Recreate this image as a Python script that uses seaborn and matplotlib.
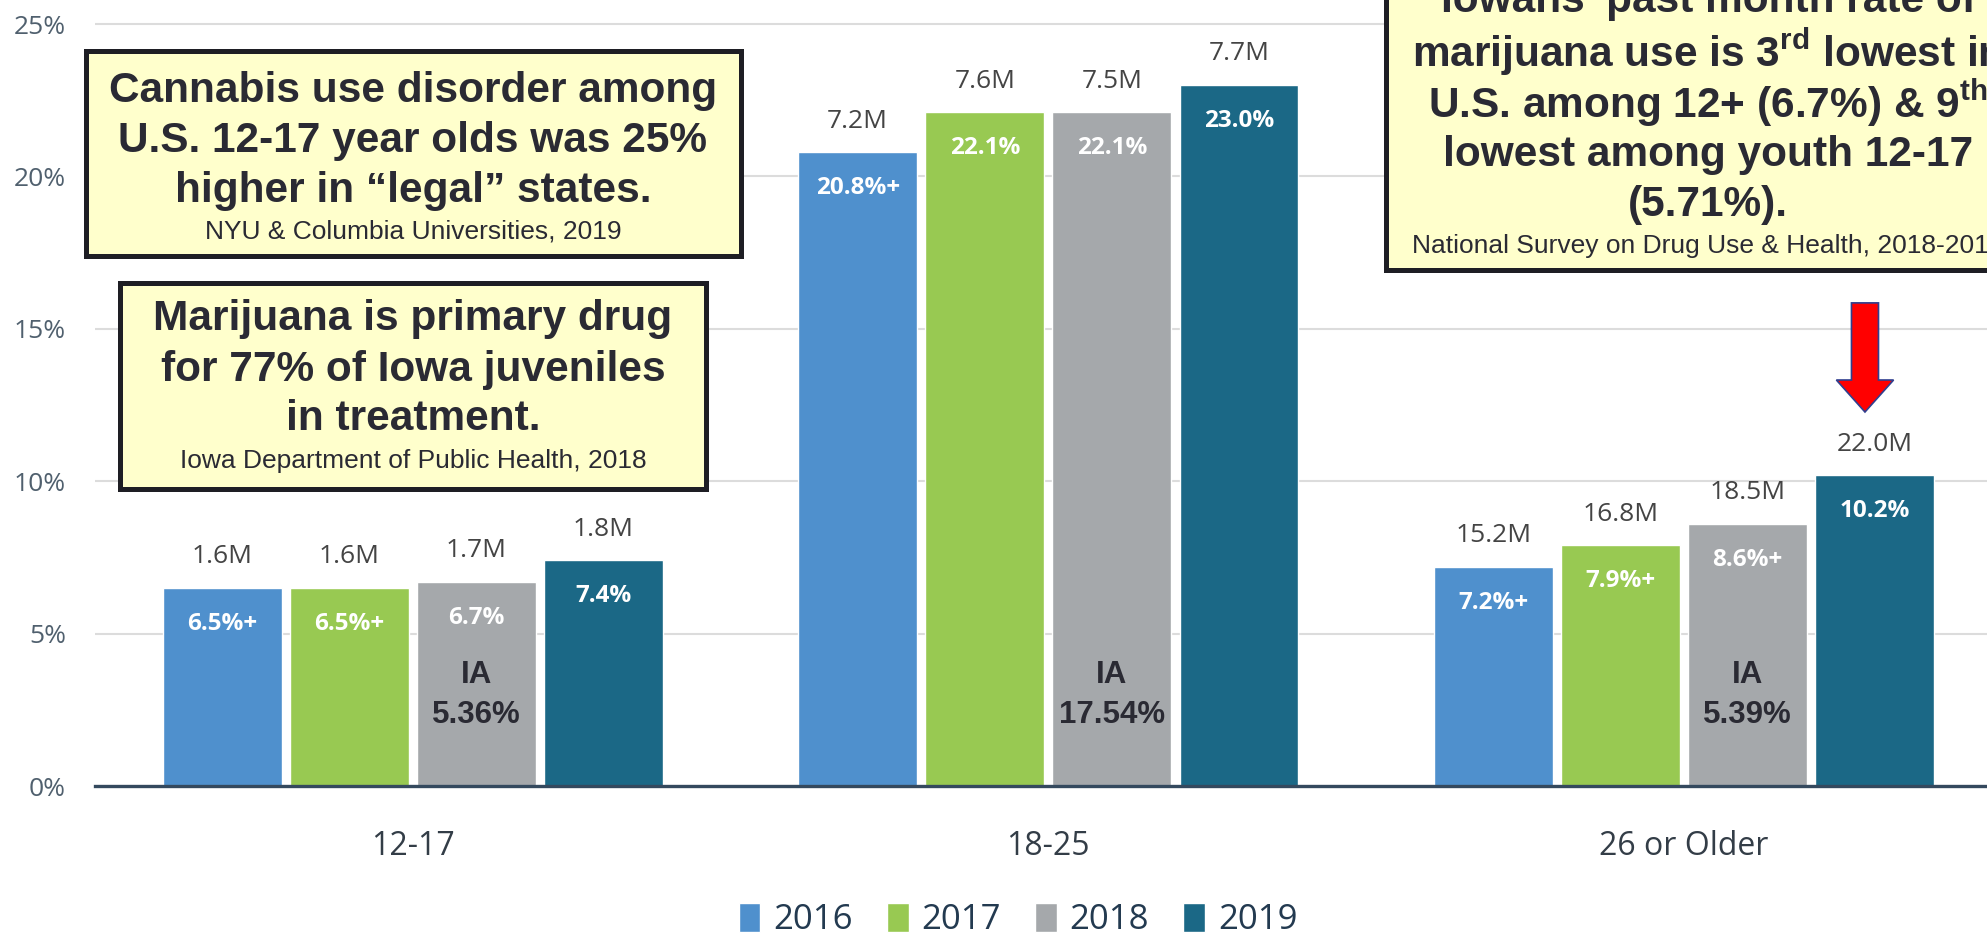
import numpy as np
import pandas as pd
import matplotlib
matplotlib.use("Agg")
import matplotlib.pyplot as plt
import seaborn as sns
from matplotlib.patches import Rectangle, FancyArrow

# ---------------- data ----------------
groups = ["12-17", "18-25", "26 or Older"]
years = ["2016", "2017", "2018", "2019"]
pct_2016 = [6.5, 20.8, 7.2]
pct_2017 = [6.5, 22.1, 7.9]
pct_2018 = [6.7, 22.1, 8.6]
pct_2019 = [7.4, 23.0, 10.2]
count_2016 = ["1.6M", "7.2M", "15.2M"]
count_2017 = ["1.6M", "7.6M", "16.8M"]
count_2018 = ["1.7M", "7.5M", "18.5M"]
count_2019 = ["1.8M", "7.7M", "22.0M"]
inner_2016 = ["6.5%+", "20.8%+", "7.2%+"]
inner_2017 = ["6.5%+", "22.1%", "7.9%+"]
inner_2018 = ["6.7%", "22.1%", "8.6%+"]
inner_2019 = ["7.4%", "23.0%", "10.2%"]
iowa_pct = ["5.36%", "17.54%", "5.39%"]
y_ticks = [0, 5, 10, 15, 20, 25]
colors = ["#4F90CD", "#98C952", "#A5A8AB", "#1B6886"]

box1_lines = ["Cannabis use disorder among", "U.S. 12-17 year olds was 25%", "higher in \u201clegal\u201d states."]
box1_source = "NYU & Columbia Universities, 2019"
box2_lines = ["Marijuana is primary drug", "for 77% of Iowa juveniles", "in treatment."]
box2_source = "Iowa Department of Public Health, 2018"
box3_lines = ["Iowans\u2019 past month rate of",
              "marijuana use is 3$^{\\mathrm{rd}}$ lowest in",
              "U.S. among 12+ (6.7%) & 9$^{\\mathrm{th}}$",
              "lowest among youth 12-17",
              "(5.71%)."]
box3_source = "National Survey on Drug Use & Health, 2018-2019"

pct_all = [pct_2016, pct_2017, pct_2018, pct_2019]
counts_all = [count_2016, count_2017, count_2018, count_2019]
inner_all = [inner_2016, inner_2017, inner_2018, inner_2019]

df = pd.DataFrame({
    "group": [g for _ in years for g in groups],
    "year": [y for y in years for _ in groups],
    "pct": [v for series in pct_all for v in series],
})

# ---------------- style ----------------
sns.set_theme(style="white")
plt.rcParams["font.family"] = ["Open Sans", "DejaVu Sans"]
plt.rcParams["mathtext.fontset"] = "custom"
plt.rcParams["mathtext.rm"] = "Liberation Sans:bold"
plt.rcParams["mathtext.bf"] = "Liberation Sans:bold"
plt.rcParams["mathtext.it"] = "Liberation Sans:bold"

W, H = 1987, 938
fig = plt.figure(figsize=(W / 100, H / 100), dpi=100)
fig.patch.set_facecolor("white")

y_top = 25.5
px_per_pct = 30.48
ax = fig.add_axes([95 / W, 1 - 786 / H, 1 - 95 / W, y_top * px_per_pct / H])

sns.barplot(data=df, x="group", y="pct", hue="year", order=groups, hue_order=years,
            palette=colors, saturation=1, width=0.8, gap=0.065, ax=ax, legend=True,
            errorbar=None)

ax.set_xlim(-0.5, 2.477)
ax.set_ylim(0, y_top)
ax.set_yticks(y_ticks)
ax.set_yticklabels([f"{t}%" for t in y_ticks])
ax.yaxis.grid(True, color="#dcdcdc", lw=1.5)
ax.set_axisbelow(True)
ax.set_xlabel("")
ax.set_ylabel("")
for s in ["left", "right", "top"]:
    ax.spines[s].set_visible(False)
ax.spines["bottom"].set_color("#34495e")
ax.spines["bottom"].set_linewidth(2.4)
ax.tick_params(axis="y", length=0, pad=21, labelsize=19, labelcolor="#50606e")
ax.tick_params(axis="x", length=0, pad=32, labelsize=23, labelcolor="#333d47")

# bar labels
for i, cont in enumerate(ax.containers):
    for j, bar in enumerate(cont):
        xc = bar.get_x() + bar.get_width() / 2
        h = bar.get_height()
        ax.annotate(counts_all[i][j], (xc, h), xytext=(0, 31), textcoords="offset pixels",
                    ha="center", va="center", fontsize=19, color="#444444")
        ax.annotate(inner_all[i][j], (xc, h), xytext=(0, -36), textcoords="offset pixels",
                    ha="center", va="center", fontsize=17.5, color="white", fontweight="bold")
        if i == 2:
            ax.annotate("IA", (xc, 0), xytext=(0, 111), textcoords="offset pixels",
                        ha="center", va="center", fontsize=22.5, color="#2a2a33",
                        fontweight="bold", family="Liberation Sans")
            ax.annotate(iowa_pct[j], (xc, 0), xytext=(0, 71), textcoords="offset pixels",
                        ha="center", va="center", fontsize=22.5, color="#2a2a33",
                        fontweight="bold", family="Liberation Sans")

# red arrow above the 2019 bar of the last group
last_bar = ax.containers[3][2]
xa = last_bar.get_x() + last_bar.get_width() / 2 - 0.015
ya = last_bar.get_height()
arrow = FancyArrow(xa, ya + 5.65, 0, -3.58, width=0.0425, head_width=0.09, head_length=1.05,
                   length_includes_head=True, fc="#ff0000", ec="#2f3f8f", lw=1.2, zorder=5,
                   clip_on=False)
ax.add_patch(arrow)

# legend
handles, labels = ax.get_legend_handles_labels()
ax.legend_.remove()
fig.legend(handles, labels, loc="center", bbox_to_anchor=(1018 / W, 1 - 920 / H), ncol=4,
           frameon=False, fontsize=25, handlelength=0.63, handleheight=0.92,
           handletextpad=0.37, columnspacing=0.98, labelcolor="#233a50")

# ---------------- text boxes ----------------
def fx(x):
    return x / W

def fy(y):
    return 1 - y / H

def draw_box(x0, y0, x1, y1):
    r = Rectangle((fx(x0), fy(y1)), fx(x1) - fx(x0), fy(y0) - fy(y1), transform=fig.transFigure,
                  facecolor="#FFFFCC", edgecolor="#1e1e24", lw=3.6, zorder=5)
    fig.add_artist(r)

def draw_lines(cx, ys, lines, source, ysrc):
    for y, line in zip(ys, lines):
        fig.text(fx(cx), fy(y), line, ha="center", va="center", fontsize=30.5,
                 fontweight="bold", color="#2a2a33", family="Liberation Sans", zorder=6)
    fig.text(fx(cx), fy(ysrc), source, ha="center", va="center", fontsize=19,
             color="#2a2a33", family="Liberation Sans", zorder=6)

draw_box(86, 51, 741, 256)
draw_lines(413, [91, 141, 191], box1_lines, box1_source, 231)

draw_box(120, 283, 706, 489)
draw_lines(413, [319, 370, 419], box2_lines, box2_source, 461)

draw_box(1386, -30, 2040, 270)
draw_lines(1708, [1, 52, 103, 155, 205], box3_lines, box3_source, 246)

fig.savefig("out.png", dpi=100, facecolor="white")
